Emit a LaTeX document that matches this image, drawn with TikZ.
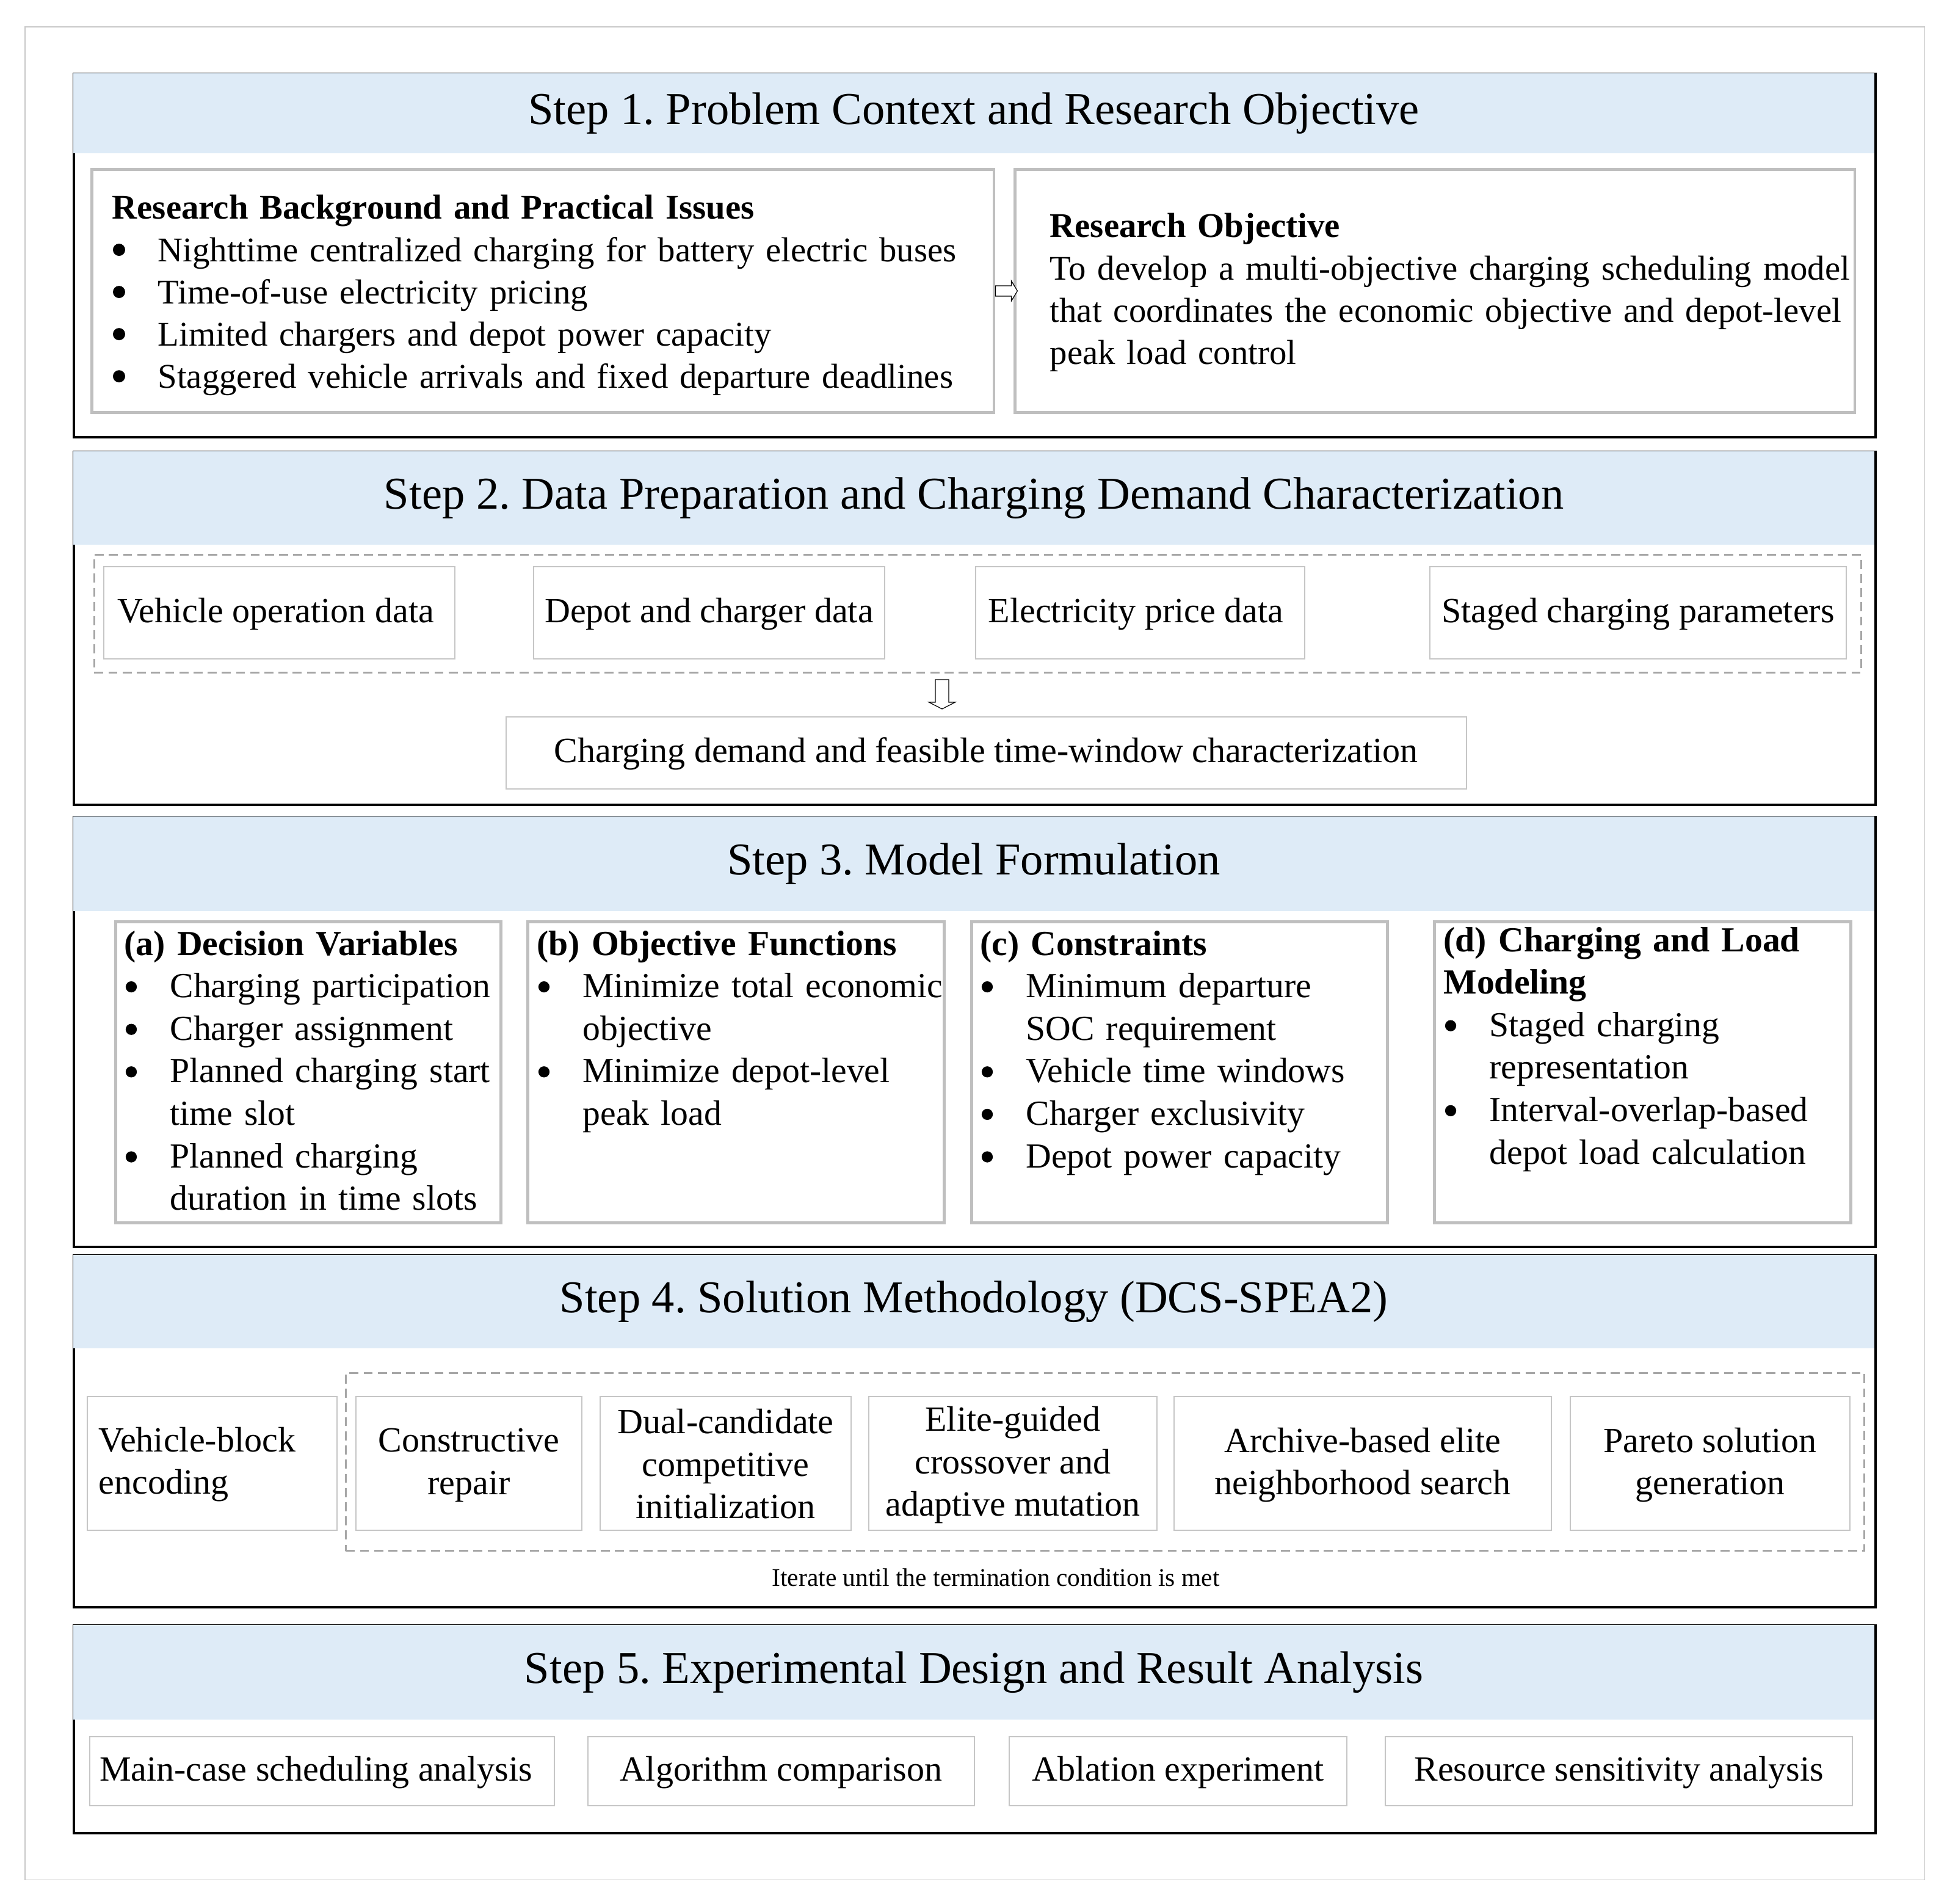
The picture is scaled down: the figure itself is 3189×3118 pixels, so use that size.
\documentclass[tikz,border=0pt]{standalone}
\usepackage{fontspec}
\setmainfont{Liberation Serif}
\usetikzlibrary{calc}
\frenchspacing
\definecolor{hdrblue}{HTML}{DEEBF7}
\definecolor{boxgray}{HTML}{BFBFBF}
\definecolor{thingray}{HTML}{C6C6C6}
\definecolor{dashgray}{HTML}{A6A6A6}
\definecolor{framegray}{HTML}{C8C8C8}
\newcommand\bodyfont{\fontsize{16.5pt}{19.75pt}\selectfont}
\newcommand\stepAfont{\fontsize{16.15pt}{19.65pt}\selectfont}
\newcommand\stepCfont{\fontsize{16.4pt}{19.8pt}\selectfont}
\newcommand\titlefont{\fontsize{21.2pt}{25pt}\selectfont}
\newcommand\smallfont{\fontsize{11.8pt}{14pt}\selectfont}
\newcommand\bit{\hspace*{21.3pt}}
\newcommand\cont{\hspace*{21.3pt}}
\tikzset{
  stepframe/.style={draw=black, line width=1.15pt, inner sep=0pt, anchor=north west},
  hdr/.style={fill=hdrblue, draw=none, inner sep=0pt, anchor=north west, minimum width=29.49cm, font=\titlefont},
  gbox/.style={draw=boxgray, line width=1.3pt, inner sep=0pt, anchor=north west},
  tbox/.style={draw=thingray, line width=0.45pt, inner sep=0pt, anchor=north west},
  dbox/.style={draw=dashgray, line width=0.85pt, dash pattern=on 4.2pt off 2.4pt, inner sep=0pt, anchor=north west},
  body/.style={inner sep=0pt, anchor=base west, align=left},
  ctext/.style={font=\bodyfont, align=center, inner sep=0pt},
  blockarrow/.style={draw=black, fill=white, line width=0.35pt, line join=miter},
  outer/.style={draw=framegray, line width=0.45pt, inner sep=0pt, anchor=north west},
  dot/.style={fill=black},
}
\begin{document}
\begin{tikzpicture}[x=0.01cm, y=-0.01cm]
\useasboundingbox (0,0) rectangle (3189,3118);
\node[outer, minimum width=31.10cm, minimum height=30.33cm] (frame) at (40,43) {};

% ---------------- Step 1
\node[stepframe, minimum width=29.49cm, minimum height=5.95cm] (s1) at (119,119) {};
\node[hdr, minimum height=1.31cm] (h1) at (119,119) {Step 1. Problem Context and Research Objective};
\node[gbox, minimum width=14.77cm, minimum height=3.98cm] (b1) at (148,275) {};
\node[gbox, minimum width=13.75cm, minimum height=3.98cm] (b2) at (1660,275) {};
\node[body, font=\stepAfont, text width=14.5cm] (t1) at (183,359) {\textbf{Research Background and Practical Issues}\\
\bit Nighttime centralized charging for battery electric buses\\
\bit Time-of-use electricity pricing\\
\bit Limited chargers and depot power capacity\\
\bit Staggered vehicle arrivals and fixed departure deadlines};
\foreach \n in {1,2,3,4} \fill[dot] ({195},{359+69.06*\n-19}) circle (2.85pt);
\node[body, font=\stepAfont, text width=13.8cm] (t2) at (1719,389) {\textbf{Research Objective}\\
To develop a multi-objective charging scheduling model\\
that coordinates the economic objective and depot-level\\
peak load control};
\coordinate (a1) at ($(b1.east)+(0,0)$);
\draw[blockarrow] (a1) ++(0,-8.5) -- ++(26,0) -- ++(0,-8) -- ++(10,16.5) -- ++(-10,16.5) -- ++(0,-8) -- ++(-26,0) -- cycle;

% ---------------- Step 2
\node[stepframe, minimum width=29.49cm, minimum height=5.78cm] (s2) at (119,738) {};
\node[hdr, minimum height=1.53cm] (h2) at (119,738) {Step 2. Data Preparation and Charging Demand Characterization};
\node[dbox, minimum width=28.92cm, minimum height=1.93cm] (dash2) at (153,907) {};
\node[tbox, minimum width=5.75cm, minimum height=1.51cm] (d1) at (169,927) {};
\node[tbox, minimum width=5.75cm, minimum height=1.51cm] (d2) at (873,927) {};
\node[tbox, minimum width=5.39cm, minimum height=1.51cm] (d3) at (1597,927) {};
\node[tbox, minimum width=6.82cm, minimum height=1.51cm] (d4) at (2341,927) {};
\node[ctext] at ($(d1.center)+(-6,2)$) {Vehicle operation data};
\node[ctext] at ($(d2.center)+(0,2)$) {Depot and charger data};
\node[ctext] at ($(d3.center)+(-7,2)$) {Electricity price data};
\node[ctext] at ($(d4.center)+(0,2)$) {Staged charging parameters};
\node[tbox, minimum width=15.72cm, minimum height=1.18cm] (dem) at (828,1173) {};
\node[ctext] at ($(dem.center)+(0,2)$) {Charging demand and feasible time-window characterization};
\coordinate (a2) at (1543,1113);
\draw[blockarrow] (a2) ++(-11,0) -- ++(22,0) -- ++(0,37) -- ++(10.5,0) -- ++(-21.5,11) -- ++(-21.5,-11) -- ++(10.5,0) -- cycle;

% ---------------- Step 3
\node[stepframe, minimum width=29.49cm, minimum height=7.04cm] (s3) at (119,1336) {};
\node[hdr, minimum height=1.55cm] (h3) at (119,1336) {Step 3. Model Formulation};
\node[gbox, minimum width=6.31cm, minimum height=4.93cm] (ma) at (187,1507) {};
\node[gbox, minimum width=6.82cm, minimum height=4.93cm] (mb) at (862,1507) {};
\node[gbox, minimum width=6.81cm, minimum height=4.93cm] (mc) at (1589,1507) {};
\node[gbox, minimum width=6.82cm, minimum height=4.93cm] (md) at (2347,1507) {};
\node[body, font=\stepCfont, text width=6.5cm] (ta) at (203,1564) {\textbf{(a) Decision Variables}\\
\bit Charging participation\\
\bit Charger assignment\\
\bit Planned charging start\\
\cont time slot\\
\bit Planned charging\\
\cont duration in time slots};
\foreach \n in {1,2,3,5} \fill[dot] ({215},{1564+69.6*\n-17.5}) circle (2.6pt);
\node[body, font=\stepCfont, text width=7.0cm] (tb) at (879,1564) {\textbf{(b) Objective Functions}\\
\bit Minimize total economic\\
\cont objective\\
\bit Minimize depot-level\\
\cont peak load};
\foreach \n in {1,3} \fill[dot] ({891},{1564+69.6*\n-17.5}) circle (2.6pt);
\node[body, font=\stepCfont, text width=7.2cm] (tc) at (1605,1564) {\textbf{(c) Constraints}\\
\bit Minimum departure\\
\cont SOC requirement\\
\bit Vehicle time windows\\
\bit Charger exclusivity\\
\bit Depot power capacity};
\foreach \n in {1,3,4,5} \fill[dot] ({1617},{1564+69.6*\n-17.5}) circle (2.6pt);
\node[body, font=\stepCfont, text width=7.3cm] (td) at (2364,1558) {\textbf{(d) Charging and Load}\\
\textbf{Modeling}\\
\bit Staged charging\\
\cont representation\\
\bit Interval-overlap-based\\
\cont depot load calculation};
\foreach \n in {2,4} \fill[dot] ({2376},{1558+69.6*\n-17.5}) circle (2.6pt);

% ---------------- Step 4
\node[stepframe, minimum width=29.49cm, minimum height=5.76cm] (s4) at (119,2054) {};
\node[hdr, minimum height=1.53cm] (h4) at (119,2054) {Step 4. Solution Methodology (DCS-SPEA2)};
\node[dbox, minimum width=24.86cm, minimum height=2.91cm] (dash4) at (565,2247) {};
\node[tbox, minimum width=4.09cm, minimum height=2.19cm] (m1) at (142,2286) {};
\node[tbox, minimum width=3.70cm, minimum height=2.19cm] (m2) at (582,2286) {};
\node[tbox, minimum width=4.11cm, minimum height=2.19cm] (m3) at (982,2286) {};
\node[tbox, minimum width=4.72cm, minimum height=2.19cm] (m4) at (1422,2286) {};
\node[tbox, minimum width=6.18cm, minimum height=2.19cm] (m5) at (1922,2286) {};
\node[tbox, minimum width=4.58cm, minimum height=2.19cm] (m6) at (2571,2286) {};
\node[font=\bodyfont, align=left, inner sep=0pt, anchor=west] at (161,2398) {Vehicle-block\\encoding};
\node[ctext] at ($(m2.center)+(0,3)$) {Constructive\\repair};
\node[ctext] at ($(m3.center)+(0,1)$) {Dual-candidate\\competitive\\initialization};
\node[ctext] at ($(m4.center)+(0,3)$) {Elite-guided\\crossover and\\adaptive mutation};
\node[ctext] at ($(m5.center)+(0,3)$) {Archive-based elite\\neighborhood search};
\node[ctext] at ($(m6.center)+(0,3)$) {Pareto solution\\generation};
\node[font=\smallfont, inner sep=0pt] (iter) at (1631,2583) {Iterate until the termination condition is met};

% ---------------- Step 5
\node[stepframe, minimum width=29.49cm, minimum height=3.40cm] (s5) at (119,2660) {};
\node[hdr, minimum height=1.55cm] (h5) at (119,2660) {Step 5. Experimental Design and Result Analysis};
\node[tbox, minimum width=7.61cm, minimum height=1.13cm] (r1) at (146,2843) {};
\node[tbox, minimum width=6.33cm, minimum height=1.13cm] (r2) at (962,2843) {};
\node[tbox, minimum width=5.53cm, minimum height=1.13cm] (r3) at (1652,2843) {};
\node[tbox, minimum width=7.65cm, minimum height=1.13cm] (r4) at (2268,2843) {};
\node[ctext] at ($(r1.center)+(-10,2)$) {Main-case scheduling analysis};
\node[ctext] at ($(r2.center)+(0,2)$) {Algorithm comparison};
\node[ctext] at ($(r3.center)+(0,2)$) {Ablation experiment};
\node[ctext] at ($(r4.center)+(0,2)$) {Resource sensitivity analysis};
\end{tikzpicture}
\end{document}
